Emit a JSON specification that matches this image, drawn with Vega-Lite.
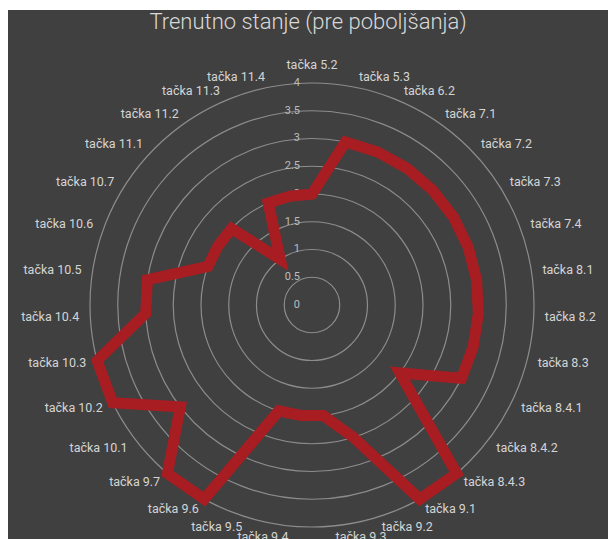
{
  "$schema": "https://vega.github.io/schema/vega-lite/v6.json",
  "width": 600,
  "height": 529,
  "autosize": {"type": "none"},
  "padding": {"left": 8, "top": 10, "right": 0, "bottom": 0},
  "background": "#ffffff",
  "config": {"view": {"fill": "#404040", "stroke": null}, "font": "Roboto"},
  "title": {"text": "Trenutno stanje (pre poboljšanja)", "color": "#d9d9d9", "fontSize": 22, "fontWeight": 300, "font": "Roboto", "anchor": "middle", "offset": 4, "baseline": "bottom", "dy": 50},
  "datasets": {
    "main": [
      {"k": "tačka 5.2", "v": 2},
      {"k": "tačka 5.3", "v": 3},
      {"k": "tačka 6.2", "v": 3},
      {"k": "tačka 7.1", "v": 3},
      {"k": "tačka 7.2", "v": 3},
      {"k": "tačka 7.3", "v": 3},
      {"k": "tačka 7.4", "v": 3},
      {"k": "tačka 8.1", "v": 3},
      {"k": "tačka 8.2", "v": 3},
      {"k": "tačka 8.3", "v": 3},
      {"k": "tačka 8.4.1", "v": 3},
      {"k": "tačka 8.4.2", "v": 2},
      {"k": "tačka 8.4.3", "v": 4},
      {"k": "tačka 9.1", "v": 4},
      {"k": "tačka 9.2", "v": 2.5},
      {"k": "tačka 9.3", "v": 2},
      {"k": "tačka 9.4", "v": 2},
      {"k": "tačka 9.5", "v": 2},
      {"k": "tačka 9.6", "v": 4},
      {"k": "tačka 9.7", "v": 4},
      {"k": "tačka 10.1", "v": 3},
      {"k": "tačka 10.2", "v": 4},
      {"k": "tačka 10.3", "v": 4},
      {"k": "tačka 10.4", "v": 3},
      {"k": "tačka 10.5", "v": 3},
      {"k": "tačka 10.6", "v": 2},
      {"k": "tačka 10.7", "v": 2},
      {"k": "tačka 11.1", "v": 2},
      {"k": "tačka 11.2", "v": 1},
      {"k": "tačka 11.3", "v": 2},
      {"k": "tačka 11.4", "v": 2}
    ],
    "rings": [{"r": 0.5}, {"r": 1}, {"r": 1.5}, {"r": 2}, {"r": 2.5}, {"r": 3}, {"r": 3.5}, {"r": 4}],
    "ticks": [
      {"t": 0, "lab": "0"}, {"t": 0.5, "lab": "0.5"}, {"t": 1, "lab": "1"}, {"t": 1.5, "lab": "1.5"},
      {"t": 2, "lab": "2"}, {"t": 2.5, "lab": "2.5"}, {"t": 3, "lab": "3"}, {"t": 3.5, "lab": "3.5"}, {"t": 4, "lab": "4"}
    ]
  },
  "layer": [
    {
      "data": {"name": "rings"},
      "mark": {"type": "arc", "theta": 0, "theta2": 6.2832, "fill": "#404040", "fillOpacity": 0, "stroke": "#8c8c8c", "strokeWidth": 1.2},
      "encoding": {
        "x": {"datum": 0, "type": "quantitative", "scale": {"domain": [-5.477, 5.333], "nice": false, "zero": false}, "axis": null},
        "y": {"datum": 0, "type": "quantitative", "scale": {"domain": [-4.216, 5.315], "nice": false, "zero": false}, "axis": null},
        "radius": {"field": "r", "type": "quantitative", "stack": null, "scale": {"type": "linear", "domain": [0, 4], "range": [0, 222], "zero": true}, "legend": null}
      }
    },
    {
      "data": {"name": "ticks"},
      "mark": {"type": "text", "align": "right", "baseline": "middle", "dx": -12, "fontSize": 11, "color": "#bdbdbd"},
      "encoding": {
        "x": {"datum": 0, "type": "quantitative"},
        "y": {"field": "t", "type": "quantitative"},
        "text": {"field": "lab"}
      }
    },
    {
      "data": {"name": "main"},
      "transform": [
        {"window": [{"op": "row_number", "as": "idx"}]},
        {"calculate": "(datum.idx - 1) * 2 * PI / 31", "as": "ang"},
        {"calculate": "datum.v * sin(datum.ang)", "as": "px"},
        {"calculate": "datum.v * cos(datum.ang)", "as": "py"}
      ],
      "mark": {"type": "line", "interpolate": "linear-closed", "color": "#a81d22", "strokeWidth": 11, "strokeJoin": "miter"},
      "encoding": {
        "x": {"field": "px", "type": "quantitative"},
        "y": {"field": "py", "type": "quantitative"},
        "order": {"field": "idx", "type": "quantitative"}
      }
    },
    {
      "data": {"name": "main"},
      "transform": [
        {"window": [{"op": "row_number", "as": "idx"}]},
        {"calculate": "(datum.idx - 1) * 2 * PI / 31", "as": "ang"},
        {"calculate": "4.2 * sin(datum.ang)", "as": "lx"},
        {"calculate": "4.2 * cos(datum.ang)", "as": "ly"},
        {"filter": "datum.lx > 0.05"}
      ],
      "mark": {"type": "text", "align": "left", "baseline": "middle", "fontSize": 12.5, "color": "#d4d4d4"},
      "encoding": {
        "x": {"field": "lx", "type": "quantitative"},
        "y": {"field": "ly", "type": "quantitative"},
        "text": {"field": "k"}
      }
    },
    {
      "data": {"name": "main"},
      "transform": [
        {"window": [{"op": "row_number", "as": "idx"}]},
        {"calculate": "(datum.idx - 1) * 2 * PI / 31", "as": "ang"},
        {"calculate": "4.2 * sin(datum.ang)", "as": "lx"},
        {"calculate": "4.2 * cos(datum.ang)", "as": "ly"},
        {"filter": "datum.lx < -0.05"}
      ],
      "mark": {"type": "text", "align": "right", "baseline": "middle", "fontSize": 12.5, "color": "#d4d4d4"},
      "encoding": {
        "x": {"field": "lx", "type": "quantitative"},
        "y": {"field": "ly", "type": "quantitative"},
        "text": {"field": "k"}
      }
    },
    {
      "data": {"name": "main"},
      "transform": [
        {"window": [{"op": "row_number", "as": "idx"}]},
        {"calculate": "(datum.idx - 1) * 2 * PI / 31", "as": "ang"},
        {"calculate": "4.2 * sin(datum.ang)", "as": "lx"},
        {"calculate": "4.2 * cos(datum.ang)", "as": "ly"},
        {"filter": "abs(datum.lx) <= 0.05"}
      ],
      "mark": {"type": "text", "align": "center", "baseline": "bottom", "fontSize": 12.5, "color": "#d4d4d4"},
      "encoding": {
        "x": {"field": "lx", "type": "quantitative"},
        "y": {"field": "ly", "type": "quantitative"},
        "text": {"field": "k"}
      }
    }
  ]
}
